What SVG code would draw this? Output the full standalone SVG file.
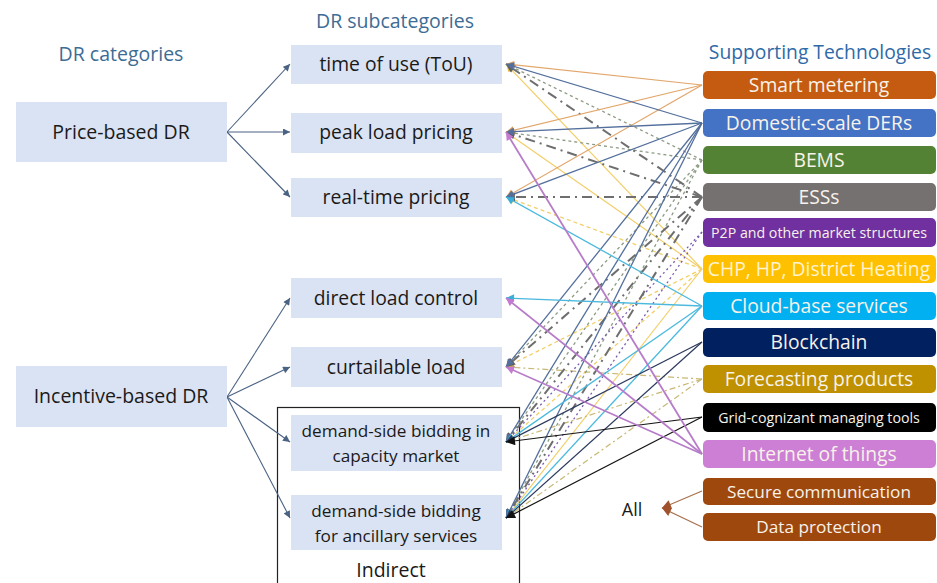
<svg xmlns="http://www.w3.org/2000/svg" width="937" height="583" viewBox="0 0 937 583">
  <style>
    text { font-family: "Open Sans", "Noto Sans", "Liberation Sans", sans-serif; }
    .hdr { fill: #3D6C94; font-size: 19.5px; text-anchor: middle; }
    .hdr2 { fill: #2F6AA8; font-size: 19.3px; text-anchor: middle; }
    .cat rect, .sub rect { fill: #DAE3F3; }
    .cat text, .sub text { fill: #1A1A1A; text-anchor: middle; }
    .cat text { font-size: 19.5px; }
    .sub text { font-size: 19.3px; }
    .sub text.two { font-size: 17.2px; }
    .tech rect { rx: 5; ry: 5; }
    .tech text { fill: #F7F2EA; font-size: 19.3px; text-anchor: middle; }
    .tech text.small { font-size: 14.2px; }
    .tech text.mid { font-size: 17.2px; }
    .tree { stroke: #4A6283; stroke-width: 1.1; fill: none; marker-end: url(#aTree); }
    .l { fill: none; }
    .smt { stroke: #E2A66B; stroke-width: 1.2; marker-end: url(#aSM); }
    .der { stroke: #536F9C; stroke-width: 1.3; marker-end: url(#aDER); }
    .bem { stroke: #8C9C84; stroke-width: 1.3; stroke-dasharray: 3 3; marker-end: url(#aBEM); }
    .ess { stroke: #6E6E6E; stroke-width: 2; stroke-dasharray: 10 5 2 5; marker-end: url(#aESS); }
    .p2p { stroke: #7A5AAE; stroke-width: 1.3; stroke-dasharray: 2 3; marker-end: url(#aP2P); }
    .chp { stroke: #F2CF6A; stroke-width: 1.2; marker-end: url(#aCHP); }
    .chpd { stroke: #F2CF6A; stroke-width: 1.3; stroke-dasharray: 4 3; marker-end: url(#aCHP); }
    .cld { stroke: #4BB9DE; stroke-width: 1.3; marker-end: url(#aCLD); }
    .blk { stroke: #2C3A5E; stroke-width: 1.2; marker-end: url(#aBLK); }
    .fct { stroke: #C8B874; stroke-width: 1.2; stroke-dasharray: 6 3 2 3; marker-end: url(#aFOR); }
    .grd { stroke: #141414; stroke-width: 1.2; marker-end: url(#aGRD); }
    .iot { stroke: #B77CC9; stroke-width: 1.8; marker-end: url(#aIOT); }
    .all { stroke: #A8734F; stroke-width: 1.3; marker-end: url(#aALL); }
  </style>
  <defs>
    <marker id="aTree" viewBox="0 0 10 10" refX="10" refY="5" markerWidth="8" markerHeight="7" markerUnits="userSpaceOnUse" orient="auto"><path d="M0,0 L10,5 L0,10 Z" fill="#4A6283"/></marker>
    <marker id="aSM" viewBox="0 0 10 10" refX="10" refY="5" markerWidth="9" markerHeight="8" markerUnits="userSpaceOnUse" orient="auto"><path d="M0,0 L10,5 L0,10 Z" fill="#D99A5A"/></marker>
    <marker id="aDER" viewBox="0 0 10 10" refX="10" refY="5" markerWidth="9" markerHeight="8" markerUnits="userSpaceOnUse" orient="auto"><path d="M0,0 L10,5 L0,10 Z" fill="#536F9C"/></marker>
    <marker id="aBEM" viewBox="0 0 10 10" refX="10" refY="5" markerWidth="9" markerHeight="8" markerUnits="userSpaceOnUse" orient="auto"><path d="M0,0 L10,5 L0,10 Z" fill="#6E8A5C"/></marker>
    <marker id="aESS" viewBox="0 0 10 10" refX="10" refY="5" markerWidth="10" markerHeight="9" markerUnits="userSpaceOnUse" orient="auto"><path d="M0,0 L10,5 L0,10 Z" fill="#5E5E5E"/></marker>
    <marker id="aP2P" viewBox="0 0 10 10" refX="10" refY="5" markerWidth="9" markerHeight="8" markerUnits="userSpaceOnUse" orient="auto"><path d="M0,0 L10,5 L0,10 Z" fill="#7A5AAE"/></marker>
    <marker id="aCHP" viewBox="0 0 10 10" refX="10" refY="5" markerWidth="9" markerHeight="8" markerUnits="userSpaceOnUse" orient="auto"><path d="M0,0 L10,5 L0,10 Z" fill="#E8C040"/></marker>
    <marker id="aCLD" viewBox="0 0 10 10" refX="10" refY="5" markerWidth="9" markerHeight="8" markerUnits="userSpaceOnUse" orient="auto"><path d="M0,0 L10,5 L0,10 Z" fill="#3AAFD8"/></marker>
    <marker id="aBLK" viewBox="0 0 10 10" refX="10" refY="5" markerWidth="9" markerHeight="8" markerUnits="userSpaceOnUse" orient="auto"><path d="M0,0 L10,5 L0,10 Z" fill="#2C3A5E"/></marker>
    <marker id="aFOR" viewBox="0 0 10 10" refX="10" refY="5" markerWidth="9" markerHeight="8" markerUnits="userSpaceOnUse" orient="auto"><path d="M0,0 L10,5 L0,10 Z" fill="#BFA450"/></marker>
    <marker id="aGRD" viewBox="0 0 10 10" refX="10" refY="5" markerWidth="10" markerHeight="9" markerUnits="userSpaceOnUse" orient="auto"><path d="M0,0 L10,5 L0,10 Z" fill="#111111"/></marker>
    <marker id="aIOT" viewBox="0 0 10 10" refX="10" refY="5" markerWidth="9" markerHeight="8" markerUnits="userSpaceOnUse" orient="auto"><path d="M0,0 L10,5 L0,10 Z" fill="#C47AD0"/></marker>
    <marker id="aALL" viewBox="0 0 10 10" refX="10" refY="5" markerWidth="10" markerHeight="9" markerUnits="userSpaceOnUse" orient="auto"><path d="M0,0 L10,5 L0,10 Z" fill="#A0522D"/></marker>
  </defs>

  <rect width="937" height="583" fill="#FFFFFF"/>

  <!-- column headers -->
  <text class="hdr" x="121" y="61">DR categories</text>
  <text class="hdr" x="395" y="28">DR subcategories</text>
  <text class="hdr2" x="820" y="59">Supporting Technologies</text>

  <!-- frame around the indirect (market) programmes -->
  <g id="indirect">
    <rect x="277.5" y="407.5" width="242" height="190" fill="none" stroke="#222222" stroke-width="1.2"/>
    <text x="391" y="577" font-size="19.5" fill="#1A1A1A" text-anchor="middle">Indirect</text>
  </g>

  <!-- connectors -->
  <g id="connectors">
    <!-- category to subcategory -->
    <path class="tree" d="M227,132 L290,64"/>
    <path class="tree" d="M227,132 L290,132"/>
    <path class="tree" d="M227,132 L290,197"/>
    <path class="tree" d="M227,397 L290,298"/>
    <path class="tree" d="M227,397 L290,367"/>
    <path class="tree" d="M227,397 L290,442"/>
    <path class="tree" d="M227,397 L290,518"/>

    <!-- CHP, HP, District Heating -->
    <path class="l chp" d="M702,269 L506,64"/>
    <path class="l chp" d="M702,269 L506,132"/>
    <path class="l chpd" d="M702,269 L506,197"/>
    <path class="l chpd" d="M702,269 L506,367"/>
    <path class="l chpd" d="M702,269 L506,442"/>
    <path class="l chp" d="M702,269 L506,518"/>
    <!-- Forecasting products -->
    <path class="l fct" d="M702,379 L506,367"/>
    <path class="l fct" d="M702,379 L506,442"/>
    <path class="l fct" d="M702,379 L506,518"/>
    <!-- BEMS -->
    <path class="l bem" d="M702,160 L506,64"/>
    <path class="l bem" d="M702,160 L506,132"/>
    <path class="l bem" d="M702,160 L506,367"/>
    <path class="l bem" d="M702,160 L506,442"/>
    <path class="l bem" d="M702,160 L506,518"/>
    <!-- P2P and other market structures -->
    <path class="l p2p" d="M702,232 L506,442"/>
    <path class="l p2p" d="M702,232 L506,518"/>
    <!-- ESSs -->
    <path class="l ess" d="M702,197 L506,64"/>
    <path class="l ess" d="M702,197 L506,132"/>
    <path class="l ess" d="M702,197 L506,197"/>
    <path class="l ess" d="M702,197 L506,367"/>
    <path class="l ess" d="M702,197 L506,442"/>
    <path class="l ess" d="M702,197 L506,518"/>
    <!-- Smart metering -->
    <path class="l smt" d="M702,85 L506,64"/>
    <path class="l smt" d="M702,85 L506,132"/>
    <path class="l smt" d="M702,85 L506,197"/>
    <!-- Domestic-scale DERs -->
    <path class="l der" d="M702,123 L506,64"/>
    <path class="l der" d="M702,123 L506,132"/>
    <path class="l der" d="M702,123 L506,197"/>
    <path class="l der" d="M702,123 L506,367"/>
    <path class="l der" d="M702,123 L506,442"/>
    <path class="l der" d="M702,123 L506,518"/>
    <!-- Cloud-base services -->
    <path class="l cld" d="M702,306 L506,197"/>
    <path class="l cld" d="M702,306 L506,298"/>
    <path class="l cld" d="M702,306 L506,442"/>
    <path class="l cld" d="M702,306 L506,518"/>
    <!-- Blockchain -->
    <path class="l blk" d="M702,342 L506,442"/>
    <path class="l blk" d="M702,342 L506,518"/>
    <!-- Grid-cognizant managing tools -->
    <path class="l grd" d="M702,417 L506,442"/>
    <path class="l grd" d="M702,417 L506,518"/>
    <!-- Internet of things -->
    <path class="l iot" d="M702,454 L506,132"/>
    <path class="l iot" d="M702,454 L506,298"/>
    <path class="l iot" d="M702,454 L506,367"/>
    <!-- security items apply to all -->
    <path class="l all" d="M702,491 L662,508"/>
    <path class="l all" d="M702,527 L662,508"/>
  </g>

  <!-- DR categories -->
  <g id="price-based" class="cat">
    <rect x="16" y="102" width="211" height="60"/>
    <text x="121" y="139">Price-based DR</text>
  </g>
  <g id="incentive-based" class="cat">
    <rect x="16" y="366" width="211" height="61"/>
    <text x="121" y="403">Incentive-based DR</text>
  </g>

  <!-- DR subcategories -->
  <g id="tou" class="sub">
    <rect x="291" y="45" width="211" height="39"/>
    <text x="396" y="71">time of use (ToU)</text>
  </g>
  <g id="peak" class="sub">
    <rect x="291" y="113" width="211" height="40"/>
    <text x="396" y="139">peak load pricing</text>
  </g>
  <g id="rtp" class="sub">
    <rect x="291" y="178" width="211" height="39"/>
    <text x="396" y="204">real-time pricing</text>
  </g>
  <g id="dlc" class="sub">
    <rect x="291" y="278" width="211" height="40"/>
    <text x="396" y="305">direct load control</text>
  </g>
  <g id="curtail" class="sub">
    <rect x="291" y="347" width="211" height="40"/>
    <text x="396" y="374">curtailable load</text>
  </g>
  <g id="capacity" class="sub">
    <rect x="291" y="415" width="211" height="56"/>
    <text class="two" x="396" y="437">demand-side  bidding in</text>
    <text class="two" x="396" y="462">capacity market</text>
  </g>
  <g id="ancillary" class="sub">
    <rect x="291" y="495" width="211" height="55"/>
    <text class="two" x="396" y="517">demand-side  bidding</text>
    <text class="two" x="396" y="542">for ancillary services</text>
  </g>

  <!-- supporting technologies -->
  <g id="smart-metering" class="tech">
    <rect x="703" y="71" width="233" height="28" fill="#C55A11"/>
    <text x="819" y="92">Smart metering</text>
  </g>
  <g id="ders" class="tech">
    <rect x="703" y="109" width="233" height="28" fill="#4472C4"/>
    <text x="819" y="130">Domestic-scale DERs</text>
  </g>
  <g id="bems" class="tech">
    <rect x="703" y="146" width="233" height="28" fill="#548235"/>
    <text x="819" y="167">BEMS</text>
  </g>
  <g id="ess" class="tech">
    <rect x="703" y="183" width="233" height="28" fill="#767171"/>
    <text x="819" y="204">ESSs</text>
  </g>
  <g id="p2p" class="tech">
    <rect x="703" y="218" width="233" height="29" fill="#7030A0"/>
    <text class="small" x="819" y="237.5">P2P and other market structures</text>
  </g>
  <g id="chp" class="tech">
    <rect x="703" y="255" width="233" height="28" fill="#FFC000"/>
    <text x="819" y="276" style="fill:#FFF3D0">CHP, HP, District Heating</text>
  </g>
  <g id="cloud" class="tech">
    <rect x="703" y="292" width="233" height="28" fill="#00B0F0"/>
    <text x="819" y="313">Cloud-base services</text>
  </g>
  <g id="blockchain" class="tech">
    <rect x="703" y="328" width="233" height="29" fill="#002060"/>
    <text x="819" y="349">Blockchain</text>
  </g>
  <g id="forecasting" class="tech">
    <rect x="703" y="365" width="233" height="28" fill="#BF9000"/>
    <text x="819" y="386">Forecasting products</text>
  </g>
  <g id="grid-tools" class="tech">
    <rect x="703" y="403" width="233" height="29" fill="#000000"/>
    <text class="small" x="819" y="422.5">Grid-cognizant managing tools</text>
  </g>
  <g id="iot" class="tech">
    <rect x="703" y="440" width="233" height="28" fill="#CC7FD4"/>
    <text x="819" y="461">Internet of things</text>
  </g>
  <g id="secure-comm" class="tech">
    <rect x="703" y="478" width="233" height="27" fill="#9E480E"/>
    <text class="mid" x="819" y="497.5">Secure communication</text>
  </g>
  <g id="data-protection" class="tech">
    <rect x="703" y="513" width="233" height="28" fill="#9E480E"/>
    <text class="mid" x="819" y="533">Data protection</text>
  </g>
  <g id="all">
    <text x="632" y="516" font-size="18" fill="#1A1A1A" text-anchor="middle">All</text>
  </g>
</svg>
